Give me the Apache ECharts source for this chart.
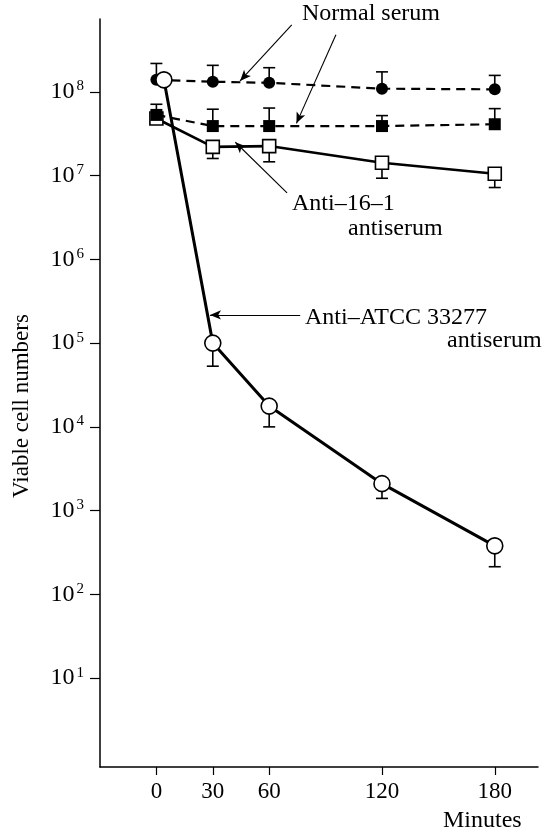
<!DOCTYPE html>
<html>
<head>
<meta charset="utf-8">
<script src="https://cdn.jsdelivr.net/npm/echarts@6/dist/echarts.min.js"></script>
<style>
  html, body { margin: 0; padding: 0; background: #fff; }
  #chart { width: 546px; height: 837px; }
</style>
</head>
<body>
<div id="chart"></div>
<script>
// sampling times (minutes)
const times = [0, 30, 60, 120, 180]
const atccTimes = [4, 30, 60, 120, 180]

// normal serum, filled circles (upper dashed curve)
const normalCircle = [1.39e8, 1.32e8, 1.28e8, 1.09e8, 1.07e8]
const normalCircleHigh = [2.18e8, 2.07e8, 1.94e8, 1.73e8, 1.57e8]
// normal serum, filled squares (lower dashed curve)
const normalSquare = [5.3e7, 3.9e7, 3.9e7, 3.9e7, 4.1e7]
const normalSquareHigh = [7.1e7, 6.2e7, 6.4e7, 5.2e7, 6.3e7]
// anti-16-1 antiserum, open squares
const anti161 = [4.8e7, 2.2e7, 2.25e7, 1.42e7, 1.05e7]
const anti161Low = [null, 1.6e7, 1.46e7, 9.3e6, 7.2e6]
// anti-ATCC 33277 antiserum, open circles
const atcc = [1.39e8, 1.0e5, 1.77e4, 2.1e3, 380]
const atccLow = [null, 5.3e4, 1.0e4, 1.4e3, 214]

const xTicks = [0, 30, 60, 120, 180]
const yTicks = [1e1, 1e2, 1e3, 1e4, 1e5, 1e6, 1e7, 1e8]

const FONT = '"Liberation Serif", "Times New Roman", serif'

function pairs(xs, ys) {
  return xs.map((x, i) => [x, ys[i]])
}

function errData(xs, ys, ends) {
  const out = []
  xs.forEach((x, i) => {
    if (ends[i] != null) out.push([x, ys[i], ends[i]])
  })
  return out
}

function renderErr(params, api) {
  const p1 = api.coord([api.value(0), api.value(1)])
  const p2 = api.coord([api.value(0), api.value(2)])
  const st = { stroke: '#000', lineWidth: 1.6 }
  return {
    type: 'group',
    children: [
      { type: 'line', shape: { x1: p1[0], y1: p1[1], x2: p2[0], y2: p2[1] }, style: st },
      { type: 'line', shape: { x1: p2[0] - 6, y1: p2[1], x2: p2[0] + 6, y2: p2[1] }, style: st }
    ]
  }
}

function errSeries(data) {
  return {
    type: 'custom',
    renderItem: renderErr,
    data: data,
    encode: { x: 0, y: [1, 2] },
    z: 1,
    silent: true
  }
}

// annotation arrows, in data coordinates: [from, to]
const arrows = [
  [[72, 6.3e8], [44.5, 1.35e8]],
  [[95.5, 4.8e8], [74.5, 4.2e7]],
  [[69.5, 6.2e6], [42, 2.5e7]],
  [[76.5, 2.17e5], [28.5, 2.17e5]]
]

const labels = [
  { text: 'Normal serum', x: 302, y: 14 },
  { text: 'Anti–16–1', x: 292, y: 204 },
  { text: 'antiserum', x: 348, y: 229 },
  { text: 'Anti–ATCC 33277', x: 305, y: 318 },
  { text: 'antiserum', x: 447, y: 341 },
  { text: 'Minutes', x: 443, y: 821 }
]

const chart = echarts.init(document.getElementById('chart'))

chart.setOption({
  animation: false,
  backgroundColor: '#fff',
  grid: { left: 100, right: 8, top: 19, bottom: 70 },
  xAxis: {
    type: 'value',
    min: -30,
    max: 203,
    splitLine: { show: false },
    axisLine: { onZero: false, lineStyle: { color: '#000', width: 1.5 } },
    axisTick: { customValues: xTicks, length: 8, lineStyle: { color: '#000', width: 1.2 } },
    axisLabel: {
      customValues: xTicks,
      margin: 13,
      color: '#000',
      fontFamily: FONT,
      fontSize: 23
    }
  },
  yAxis: {
    type: 'log',
    logBase: 10,
    min: 0.87,
    max: 7.4e8,
    splitLine: { show: false },
    axisLine: { onZero: false, lineStyle: { color: '#000', width: 1.5 } },
    axisTick: { customValues: yTicks, length: 10, lineStyle: { color: '#000', width: 1.2 } },
    axisLabel: {
      customValues: yTicks,
      margin: 16,
      formatter: v => '{b|10}{s|' + Math.round(Math.log10(v)) + '}',
      rich: {
        b: { fontFamily: FONT, fontSize: 24, color: '#000' },
        s: { fontFamily: FONT, fontSize: 15, color: '#000', padding: [0, 0, 11, 2] }
      }
    }
  },
  graphic: labels.map(l => ({
    type: 'text',
    x: l.x,
    y: l.y,
    style: {
      text: l.text,
      font: '24px ' + FONT,
      fill: '#000',
      textAlign: 'left',
      textVerticalAlign: 'middle'
    }
  })).concat([{
    type: 'text',
    x: 22,
    y: 406,
    rotation: Math.PI / 2,
    style: {
      text: 'Viable cell numbers',
      font: '23px ' + FONT,
      fill: '#000',
      textAlign: 'center',
      textVerticalAlign: 'middle'
    }
  }]),
  series: [
    errSeries(errData(times, normalCircle, normalCircleHigh)),
    errSeries(errData(times, normalSquare, normalSquareHigh)),
    errSeries(errData(times, anti161, anti161Low)),
    errSeries(errData(atccTimes, atcc, atccLow)),
    {
      name: 'Normal serum (circles)',
      type: 'line',
      data: pairs(times, normalCircle),
      symbol: 'circle',
      symbolSize: 12,
      lineStyle: { color: '#000', width: 2.2, type: [9, 6] },
      itemStyle: { color: '#000' },
      z: 3
    },
    {
      name: 'Anti-16-1',
      type: 'line',
      data: pairs(times, anti161),
      symbol: 'rect',
      symbolSize: 13,
      lineStyle: { color: '#000', width: 2.6 },
      itemStyle: { color: '#fff', borderColor: '#000', borderWidth: 1.6 },
      z: 3
    },
    {
      name: 'Normal serum (squares)',
      type: 'line',
      data: pairs(times, normalSquare),
      symbol: 'rect',
      symbolSize: 12,
      lineStyle: { color: '#000', width: 2.2, type: [9, 6] },
      itemStyle: { color: '#000' },
      z: 4
    },
    {
      name: 'Anti-ATCC 33277',
      type: 'line',
      data: pairs(atccTimes, atcc),
      symbol: 'circle',
      symbolSize: 16,
      lineStyle: { color: '#000', width: 3 },
      itemStyle: { color: '#fff', borderColor: '#000', borderWidth: 1.6 },
      z: 5
    },
    {
      type: 'line',
      data: [],
      markLine: {
        silent: true,
        symbol: ['none', 'arrow'],
        symbolSize: [7, 11],
        label: { show: false },
        lineStyle: { color: '#000', width: 1.1, type: 'solid' },
        data: arrows.map(a => [{ coord: a[0] }, { coord: a[1] }])
      }
    }
  ]
})
</script>
</body>
</html>
